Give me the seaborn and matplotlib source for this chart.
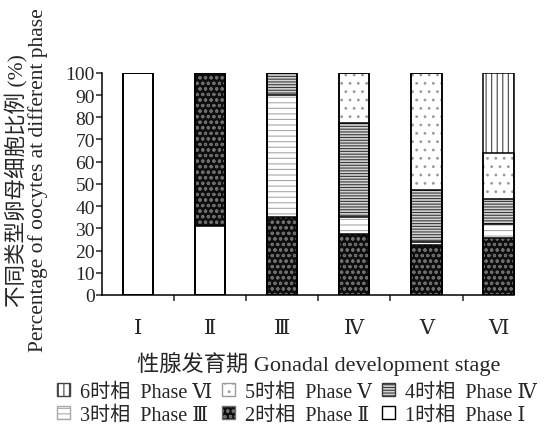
import matplotlib
matplotlib.use("Agg")
import matplotlib.pyplot as plt
from matplotlib.patches import Patch
import seaborn as sns
import pandas as pd
import numpy as np

# data (percent of each oocyte phase per gonad stage)
stages = ["Ⅰ", "Ⅱ", "Ⅲ", "Ⅳ", "Ⅴ", "Ⅵ"]
phase1 = [100, 31.2, 0, 0, 0, 0]
phase2 = [0, 68.8, 35.3, 27.5, 22.5, 25.5]
phase3 = [0, 0, 54.9, 7.5, 1.2, 6.5]
phase4 = [0, 0, 9.8, 42.5, 23.6, 11.2]
phase5 = [0, 0, 0, 22.5, 52.7, 20.6]
phase6 = [0, 0, 0, 0, 0, 36.2]

phase_labels = ["1时相  Phase Ⅰ", "2时相  Phase Ⅱ", "3时相  Phase Ⅲ",
                "4时相  Phase Ⅳ", "5时相  Phase Ⅴ", "6时相  Phase Ⅵ"]

sns.set_style("white")
fonts = ["Liberation Serif", "DejaVu Serif", "Noto Sans CJK SC"]
plt.rcParams["font.family"] = fonts
plt.rcParams["hatch.linewidth"] = 0.8
plt.rcParams["axes.unicode_minus"] = False

# looks of each phase: face, hatch, hatch colour
styles = [
    ("white", "", "white"),
    ("#0e0e0e", "ooo", "#6e6e6e"),
    ("white", "---", "#a8a8a8"),
    ("#d4d4d4", "------", "#3a3a3a"),
    ("white", "..", "#9a9a9a"),
    ("white", "|||", "#444444"),
]

phases = [phase1, phase2, phase3, phase4, phase5, phase6]
cum = np.cumsum(np.array(phases), axis=0)
df = pd.DataFrame({"stage": stages})
for i in range(6):
    df["cum%d" % (i + 1)] = cum[i]

fig = plt.figure(figsize=(5.45, 4.27), dpi=100)
ax = fig.add_axes([0.187, 0.307, 0.794, 0.52])

W = 0.42
# draw from the top phase down so each lower cumulative bar covers the upper ones
for i in range(5, -1, -1):
    face, hatch, hcol = styles[i]
    sns.barplot(data=df, x="stage", y="cum%d" % (i + 1), color=face, saturation=1,
                width=W, hatch=hatch, edgecolor=hcol, linewidth=0,
                errorbar=None, ax=ax)
# black outlines for each segment boundary
for i in range(5, -1, -1):
    sns.barplot(data=df, x="stage", y="cum%d" % (i + 1), fill=False,
                width=W, edgecolor="black", linewidth=1.1,
                errorbar=None, ax=ax)

ax.set_xlim(-0.5, 5.5)
ax.set_ylim(0, 100)
ax.set_yticks(range(0, 101, 10))
ax.tick_params(axis="y", labelsize=14, length=4, width=1.1, direction="out",
               left=True, pad=1)
ax.set_xticks([0.5, 1.5, 2.5, 3.5, 4.5])
ax.set_xticklabels([])
ax.set_xticks(range(6), minor=True)
ax.set_xticklabels(stages, minor=True, fontsize=15)
ax.tick_params(axis="x", which="major", length=4, width=1.1, direction="out",
               bottom=True)
ax.tick_params(axis="x", which="minor", length=0, pad=17)

for s in ["top", "right"]:
    ax.spines[s].set_visible(False)
for s in ["left", "bottom"]:
    ax.spines[s].set_linewidth(1.1)
    ax.spines[s].set_color("black")
ax.spines["bottom"].set_bounds(-0.5, 5 + W / 2)

ax.set_ylabel("不同类型卵母细胞比例 (%)\nPercentage of oocytes at different phase",
              fontsize=15.5, linespacing=1.0)
ax.yaxis.set_label_coords(-0.125, 0.52)
ax.set_xlabel("性腺发育期 Gonadal development stage", fontsize=16, labelpad=10)

handles = []
for i in range(6):
    face, hatch, hcol = styles[i]
    handles.append(Patch(facecolor=face, hatch=hatch,
                         edgecolor="black" if hatch == "" else hcol,
                         label=phase_labels[i]))
# row-major order VI V IV / III II I, legend fills column-wise
order = [5, 2, 4, 1, 3, 0]
fig.legend([handles[k] for k in order], [phase_labels[k] for k in order],
           ncol=3, loc="center", bbox_to_anchor=(0.545, 0.052), frameon=False,
           fontsize=14.5, handlelength=0.65, handleheight=0.65, handletextpad=0.5,
           columnspacing=0.5, labelspacing=0.2, borderpad=0)

fig.savefig("out.png", dpi=100)
